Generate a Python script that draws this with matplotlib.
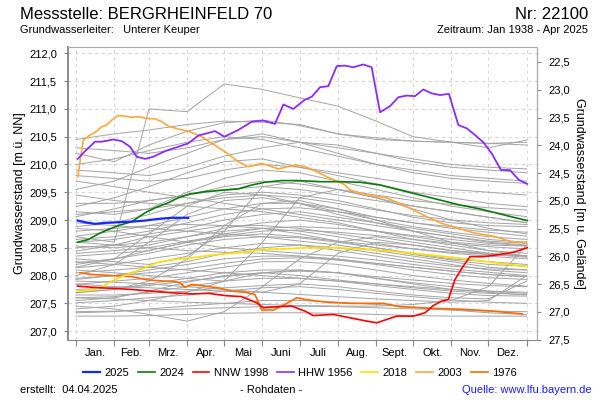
import numpy as np
import matplotlib
matplotlib.use("Agg")
import matplotlib.pyplot as plt
from matplotlib.ticker import FuncFormatter, FixedLocator

plt.rcParams['font.family'] = ['Liberation Sans', 'DejaVu Sans']

# month boundaries (day of year) and labels
month_starts = [0, 31, 59, 90, 120, 151, 181, 212, 243, 273, 304, 334, 365]
month_labels = ['Jan.', 'Feb.', 'Mrz.', 'Apr.', 'Mai', 'Juni', 'Juli', 'Aug.', 'Sept.', 'Okt.', 'Nov.', 'Dez.']

# highlighted years (day of year, level in m ue. NN)
y2025_days = [1.4, 7.3, 15.4, 23.5, 34.3, 45.1, 55.9, 66.6, 77.5, 90.9]
y2025_vals = [208.99, 208.96, 208.93, 208.95, 208.96, 208.97, 208.99, 209.02, 209.04, 209.04]

y2024_days = [1.4, 10, 18.1, 26.2, 34.3, 45.1, 55.9, 64, 74.7, 82.8, 92.3, 104.5, 120.6, 131.4, 142.3,
              153, 166.6, 180, 197.6, 213.8, 230, 246.2, 262.3, 278.5, 294.7, 310.9, 327.1, 343.3, 354.1, 365.4]
y2024_vals = [208.60, 208.65, 208.75, 208.83, 208.90, 208.97, 209.13, 209.22, 209.31, 209.40, 209.47, 209.51,
              209.54, 209.56, 209.63, 209.68, 209.71, 209.71, 209.69, 209.69, 209.68, 209.63, 209.54, 209.45,
              209.36, 209.27, 209.20, 209.11, 209.05, 208.99]

nnw1998_days = [1.4, 12.7, 28.9, 45.1, 61.3, 77.5, 93.7, 107.1, 120.6, 134.2, 146.3, 151.7, 163.8, 174.7,
                185.4, 192.1, 208.3, 221.9, 235.4, 243.5, 251.6, 259.7, 273.1, 282.6, 289.3, 296.1, 301.5,
                306.9, 313.6, 319, 329.8, 343.3, 354.1, 365.4]
nnw1998_vals = [207.81, 207.79, 207.77, 207.75, 207.72, 207.69, 207.67, 207.68, 207.64, 207.62, 207.51,
                207.42, 207.44, 207.45, 207.36, 207.28, 207.30, 207.24, 207.18, 207.15, 207.21, 207.27,
                207.27, 207.33, 207.46, 207.54, 207.57, 207.93, 208.17, 208.34, 208.34, 208.38, 208.42, 208.50]

hhw1956_days = [1.4, 7.3, 15.4, 20.8, 30.2, 37, 43.7, 49.1, 55.9, 62.6, 72.1, 80.2, 90.9, 99, 112.6, 120.1,
                131.4, 142.3, 151.7, 161.1, 167.9, 176, 184.9, 190.9, 197.6, 204.3, 211.1, 217.8, 224.5,
                232.6, 239.4, 246.2, 254.3, 261, 267.8, 274.5, 281.2, 288, 294.7, 302, 309.6, 316.4, 323.1,
                329.8, 336.6, 344.1, 351.4, 358.7, 365.4]
hhw1956_vals = [210.10, 210.24, 210.41, 210.41, 210.45, 210.42, 210.32, 210.14, 210.10, 210.14, 210.24,
                210.30, 210.38, 210.52, 210.60, 210.50, 210.62, 210.77, 210.79, 210.73, 211.08, 211.00,
                211.16, 211.22, 211.39, 211.41, 211.77, 211.78, 211.75, 211.80, 211.75, 210.94, 211.05,
                211.21, 211.24, 211.23, 211.35, 211.28, 211.25, 211.27, 210.71, 210.65, 210.53, 210.40,
                210.20, 209.90, 209.90, 209.72, 209.65]

y2018_days = [1.4, 14, 20.8, 31.6, 45.1, 55.9, 66.6, 80.2, 93.7, 107.1, 120.6, 134.1, 153, 169.2, 185.4,
              212.4, 250.5, 277.5, 304.2, 325.7, 347.4, 365.4]
y2018_vals = [207.72, 207.74, 207.80, 207.93, 208.05, 208.14, 208.24, 208.29, 208.32, 208.36, 208.39,
              208.42, 208.47, 208.48, 208.50, 208.50, 208.45, 208.39, 208.33, 208.27, 208.21, 208.16]

y2003_days = [1.4, 5.9, 11.3, 16.8, 20.8, 24.9, 28.9, 33.8, 39.7, 45.1, 50.4, 57.2, 64, 69.4, 74.7, 84.2,
              90.9, 101.8, 109.9, 120.6, 131.4, 139.5, 150.4, 163.8, 177.3, 185.4, 192.1, 203, 212.4,
              217.8, 221.9, 235.4, 251.6, 267.8, 284, 294.7, 308.3, 321.7, 337.9, 354.1, 364.9]
y2003_vals = [209.78, 210.44, 210.53, 210.60, 210.68, 210.71, 210.80, 210.88, 210.87, 210.85, 210.86,
              210.83, 210.82, 210.77, 210.69, 210.63, 210.60, 210.50, 210.38, 210.23, 210.05, 209.96,
              210.02, 209.92, 209.99, 209.96, 209.90, 209.78, 209.69, 209.63, 209.54, 209.45, 209.40,
              209.24, 209.06, 208.95, 208.86, 208.77, 208.71, 208.60, 208.60]

y1976_days = [3.2, 12.7, 28.9, 45.1, 58.5, 72.1, 80.2, 84.2, 88.3, 93.7, 104.5, 115.2, 126.1, 136.8, 144.9,
              150.4, 159.8, 169.2, 178.7, 185.4, 203, 221.9, 248.8, 262.3, 289.3, 316.4, 337.9, 361.4]
y1976_vals = [208.05, 208.02, 208.00, 207.98, 207.92, 207.90, 207.89, 207.87, 207.79, 207.84, 207.81,
              207.78, 207.72, 207.70, 207.66, 207.38, 207.38, 207.48, 207.60, 207.57, 207.52, 207.50,
              207.50, 207.44, 207.41, 207.39, 207.36, 207.31]

# other years 1938-2024, monthly readings at month_starts
other_years = [
    [210.20, 210.05, 210.35, 210.60, 210.75, 210.80, 210.70, 210.55, 210.45, 210.42, 210.40, 210.38, 210.40],
    [210.45, 210.55, 210.62, 210.72, 210.78, 210.76, 210.72, 210.55, 210.48, 210.42, 210.40, 210.38, 210.35],
    [208.70, 208.60, 211.00, 210.95, 211.45, 211.35, 211.20, 211.05, 210.78, 210.50, 210.40, 210.30, 210.44],
    [209.90, 209.85, 209.80, 209.95, 210.15, 210.30, 210.40, 210.35, 210.20, 210.05, 209.95, 209.90, 209.85],
    [209.55, 209.70, 209.95, 210.20, 210.45, 210.55, 210.40, 210.20, 210.00, 209.85, 209.75, 209.70, 209.66],
    [209.24, 209.40, 209.60, 209.85, 210.05, 210.10, 209.95, 209.80, 209.65, 209.50, 209.40, 209.30, 209.24],
    [209.15, 209.10, 209.20, 209.50, 209.75, 209.90, 209.85, 209.70, 209.55, 209.40, 209.25, 209.15, 209.06],
    [209.06, 209.20, 209.35, 209.45, 209.55, 209.60, 209.55, 209.45, 209.35, 209.25, 209.15, 209.05, 208.95],
    [208.88, 208.95, 209.10, 209.30, 209.45, 209.50, 209.45, 209.35, 209.20, 209.05, 208.95, 208.90, 208.88],
    [208.71, 208.80, 208.90, 209.05, 209.20, 209.30, 209.30, 209.20, 209.05, 208.95, 208.85, 208.78, 208.71],
    [208.60, 208.65, 208.75, 208.85, 209.00, 209.10, 209.15, 209.05, 208.95, 208.85, 208.75, 208.65, 208.60],
    [208.53, 208.50, 208.55, 208.70, 208.85, 208.95, 209.00, 208.92, 208.80, 208.70, 208.60, 208.55, 208.53],
    [208.44, 208.55, 208.70, 208.80, 208.90, 208.90, 208.85, 208.75, 208.65, 208.55, 208.45, 208.40, 208.35],
    [208.35, 208.40, 208.45, 208.60, 208.75, 208.85, 208.80, 208.70, 208.58, 208.48, 208.40, 208.35, 208.30],
    [208.23, 208.30, 208.40, 208.55, 208.65, 208.70, 208.68, 208.60, 208.50, 208.40, 208.30, 208.25, 208.20],
    [208.14, 208.20, 208.30, 208.40, 208.50, 208.58, 208.55, 208.45, 208.35, 208.25, 208.17, 208.12, 208.10],
    [208.05, 208.10, 208.15, 208.25, 208.40, 208.50, 208.55, 208.50, 208.40, 208.30, 208.20, 208.10, 208.05],
    [207.93, 208.00, 208.10, 208.20, 208.30, 208.35, 208.35, 208.28, 208.20, 208.10, 208.02, 207.96, 207.93],
    [207.84, 207.90, 207.95, 208.05, 208.15, 208.25, 208.25, 208.20, 208.10, 208.00, 207.92, 207.86, 207.81],
    [207.69, 207.75, 207.85, 207.95, 208.05, 208.10, 208.10, 208.05, 207.95, 207.87, 207.80, 207.72, 207.68],
    [207.60, 207.62, 207.70, 207.80, 207.90, 207.95, 207.95, 207.90, 207.82, 207.75, 207.68, 207.64, 207.63],
    [207.51, 207.55, 207.60, 207.65, 207.72, 207.78, 207.80, 207.75, 207.68, 207.62, 207.56, 207.52, 207.50],
    [207.33, 207.35, 207.40, 207.45, 207.50, 207.55, 207.55, 207.52, 207.48, 207.43, 207.38, 207.33, 207.30],
    [207.27, 207.27, 207.28, 207.30, 207.32, 207.33, 207.33, 207.32, 207.30, 207.28, 207.27, 207.27, 207.27],
    [207.45, 207.40, 207.30, 207.18, 207.35, 207.80, 208.30, 208.60, 208.70, 208.60, 208.50, 208.40, 208.35],
    [207.70, 207.75, 207.90, 208.30, 208.90, 209.30, 209.35, 209.20, 209.00, 208.80, 208.60, 208.45, 208.35],
    [208.10, 208.05, 208.00, 207.95, 207.90, 208.60, 209.40, 209.55, 209.40, 209.20, 209.00, 208.85, 208.75],
    [209.70, 209.60, 209.50, 209.40, 209.30, 209.20, 209.10, 209.00, 208.90, 208.80, 208.70, 208.60, 208.55],
    [209.45, 209.35, 209.30, 209.25, 209.20, 209.15, 209.05, 208.95, 208.80, 208.65, 208.55, 208.45, 208.40],
    [208.95, 208.90, 208.85, 208.80, 208.75, 208.70, 208.62, 208.55, 208.45, 208.35, 208.25, 208.15, 208.10],
    [208.80, 208.85, 208.90, 208.92, 208.90, 208.85, 208.75, 208.62, 208.50, 208.38, 208.28, 208.20, 208.17],
    [207.85, 207.80, 207.78, 207.75, 207.72, 207.70, 207.66, 207.62, 207.58, 207.55, 207.52, 207.55, 208.00],
    [207.60, 207.58, 207.55, 207.52, 207.50, 207.48, 207.46, 207.45, 207.45, 207.48, 207.55, 207.80, 208.55],
    [208.30, 208.25, 208.20, 208.35, 208.80, 209.60, 209.70, 209.55, 209.40, 209.25, 209.15, 209.05, 208.95],
    [208.00, 208.20, 208.60, 209.10, 209.35, 209.40, 209.30, 209.15, 209.00, 208.88, 208.78, 208.70, 208.65],
    [207.40, 207.45, 207.55, 207.70, 207.90, 208.05, 208.10, 208.05, 207.95, 207.85, 207.75, 207.70, 207.65],
    [207.55, 207.60, 207.72, 207.88, 208.00, 208.05, 208.00, 207.92, 207.85, 207.78, 207.72, 207.68, 207.66],
    [208.20, 208.30, 208.45, 208.60, 208.70, 208.75, 208.70, 208.62, 208.55, 208.48, 208.42, 208.38, 208.36],
    [208.40, 208.45, 208.50, 208.62, 208.72, 208.80, 208.82, 208.78, 208.72, 208.65, 208.58, 208.52, 208.48],
    [208.65, 208.70, 208.80, 208.95, 209.10, 209.20, 209.22, 209.15, 209.05, 208.95, 208.88, 208.82, 208.78],
    [209.30, 209.30, 209.35, 209.45, 209.60, 209.70, 209.65, 209.55, 209.45, 209.35, 209.28, 209.22, 209.18],
    [208.50, 208.55, 208.60, 208.70, 208.80, 208.85, 208.88, 208.85, 208.80, 208.72, 208.65, 208.58, 208.54],
    [207.95, 208.00, 208.05, 208.12, 208.22, 208.30, 208.32, 208.28, 208.22, 208.15, 208.08, 208.02, 207.98],
    [207.75, 207.78, 207.82, 207.90, 207.98, 208.05, 208.08, 208.05, 207.98, 207.92, 207.86, 207.82, 207.80],
    [210.00, 210.10, 210.25, 210.40, 210.50, 210.45, 210.30, 210.15, 210.00, 209.90, 209.80, 209.75, 209.70],
    [209.80, 209.75, 209.70, 209.75, 209.90, 210.00, 209.95, 209.85, 209.75, 209.65, 209.55, 209.50, 209.45],
    [208.25, 208.20, 208.15, 208.10, 208.05, 208.00, 207.95, 207.90, 207.85, 207.80, 207.75, 207.72, 207.70],
    [208.15, 208.30, 208.75, 209.25, 209.50, 209.45, 209.30, 209.10, 208.95, 208.80, 208.70, 208.62, 208.58],
    [207.65, 207.65, 207.68, 207.72, 207.78, 207.82, 207.85, 207.80, 207.72, 207.65, 207.60, 207.58, 207.90],
    [207.35, 207.36, 207.38, 207.40, 207.42, 207.44, 207.45, 207.44, 207.42, 207.40, 207.38, 207.36, 207.35],
    [208.85, 208.80, 208.70, 208.60, 208.50, 208.45, 208.40, 208.35, 208.28, 208.20, 208.12, 208.06, 208.00],
    [209.10, 209.15, 209.20, 209.30, 209.40, 209.45, 209.40, 209.30, 209.18, 209.08, 209.00, 208.95, 208.92],
    [210.30, 210.25, 210.20, 210.30, 210.45, 210.50, 210.40, 210.30, 210.20, 210.10, 210.00, 209.95, 209.92],
    [207.90, 207.88, 207.85, 207.80, 207.75, 207.70, 207.85, 208.40, 208.60, 208.55, 208.45, 208.38, 208.33],
    [208.60, 208.55, 208.50, 208.45, 208.42, 208.40, 208.35, 208.30, 208.22, 208.15, 208.08, 208.02, 207.98],
]

ground_level = 234.345  # m ue. NN, used for the right axis (m u. Gelaende)


def comma(v, pos):
    return "{:.1f}".format(v).replace(".", ",")


fig = plt.figure(figsize=(6, 4), dpi=100)
ax = fig.add_axes([68 / 600, 1 - 340 / 400, (537 - 68) / 600, (340 - 46.7) / 400])

for vals in other_years:
    ax.plot(month_starts, vals, color="#a4a4a4", lw=0.7, zorder=2)

ax.plot(y1976_days, y1976_vals, color="#ff6a00", lw=1.2, zorder=3)
ax.plot(y2003_days, y2003_vals, color="#ffa83a", lw=1.2, zorder=3)
ax.plot(y2018_days, y2018_vals, color="#ffe000", lw=1.2, zorder=3)
ax.plot(hhw1956_days, hhw1956_vals, color="#8b2cff", lw=1.3, zorder=4)
ax.plot(nnw1998_days, nnw1998_vals, color="#ff0000", lw=1.2, zorder=4)
ax.plot(y2024_days, y2024_vals, color="#0a7a0a", lw=1.2, zorder=5)
ax.plot(y2025_days, y2025_vals, color="#1428ff", lw=1.6, zorder=6)

ax.set_xlim(-6.5, 373.3)
ax.set_ylim(206.84, 212.12)

# x axis: ticks at month boundaries, labels centred in months
ax.xaxis.set_major_locator(FixedLocator(month_starts))
ax.xaxis.set_major_formatter(FuncFormatter(lambda v, p: ""))
mids = [(month_starts[i] + month_starts[i + 1]) / 2 for i in range(12)]
ax.xaxis.set_minor_locator(FixedLocator(mids))
ax.set_xticklabels(month_labels, minor=True)
ax.tick_params(axis="x", which="major", length=4, color="#888888", direction="out")
ax.tick_params(axis="x", which="minor", length=0, labelsize=8, pad=6)

ax.set_yticks(np.arange(207.0, 212.01, 0.5))
ax.yaxis.set_major_formatter(FuncFormatter(comma))
ax.tick_params(axis="y", length=3, color="#888888", labelsize=8, pad=5)

ax.grid(True, which="major", color="#d8d8d8", lw=0.8, ls=(0, (3, 3)))
ax.set_axisbelow(True)

for side in ["top", "right", "bottom"]:
    ax.spines[side].set_color("#aaaaaa")
ax.spines["left"].set_color("#777777")
ax.spines["left"].set_linewidth(1.2)
ax.spines["bottom"].set_color("#888888")

ax.set_ylabel("Grundwasserstand [m ü. NN]", fontsize=9, labelpad=2)

sec = ax.secondary_yaxis("right", functions=(lambda y: ground_level - y, lambda y: ground_level - y))
sec.set_yticks(np.arange(22.5, 27.51, 0.5))
sec.yaxis.set_major_formatter(FuncFormatter(comma))
sec.tick_params(length=3, color="#888888", labelsize=8, pad=5)
sec.spines["right"].set_color("#888888")
sec.set_ylabel("Grundwasserstand [m u. Gelände]", fontsize=9, rotation=-90, labelpad=11)

# legend
legend_names = ["2025", "2024", "NNW 1998", "HHW 1956", "2018", "2003", "1976"]
legend_colors = ["#1428ff", "#0a7a0a", "#ff0000", "#8b2cff", "#ffe000", "#ffa83a", "#ff6a00"]
handles = [plt.Line2D([], [], color=c, lw=1.6 if i == 0 else 1.2) for i, c in enumerate(legend_colors)]
fig.legend(handles, legend_names, loc="center", bbox_to_anchor=(0.5, 1 - 373 / 400), ncol=7,
           frameon=False, fontsize=8, handlelength=1.5, handletextpad=0.4, columnspacing=0.8)

# header and footer texts
fig.text(20 / 600, 1 - 19 / 400, "Messstelle: BERGRHEINFELD 70", fontsize=12, ha="left", va="baseline")
fig.text(588 / 600, 1 - 19 / 400, "Nr: 22100", fontsize=12, ha="right", va="baseline")
fig.text(20 / 600, 1 - 33 / 400, "Grundwasserleiter:   Unterer Keuper", fontsize=8, ha="left", va="baseline")
fig.text(588 / 600, 1 - 33 / 400, "Zeitraum: Jan 1938 - Apr 2025", fontsize=8, ha="right", va="baseline")
fig.text(20 / 600, 1 - 393 / 400, "erstellt:  04.04.2025", fontsize=8, ha="left", va="baseline")
fig.text(271 / 600, 1 - 393 / 400, "- Rohdaten -", fontsize=8, ha="center", va="baseline")
fig.text(592 / 600, 1 - 393 / 400, "Quelle: www.lfu.bayern.de", fontsize=8, ha="right", va="baseline",
         color="#1a1aff")

fig.savefig("out.png", dpi=100)
